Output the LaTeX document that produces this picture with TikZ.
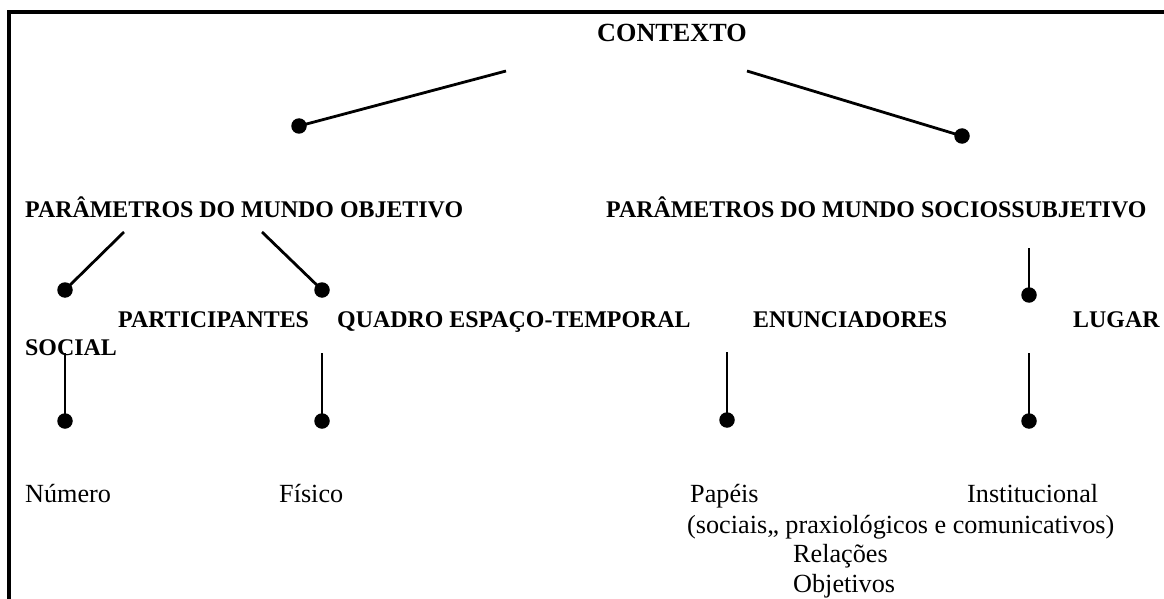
\documentclass[tikz,border=0pt]{standalone}
\usepackage{fontspec}
\setmainfont{Liberation Serif}
\begin{document}
\begin{tikzpicture}[x=1pt,y=-1pt,
  hd/.style={font=\fontsize{23.9}{28}\selectfont\bfseries, inner sep=0, anchor=base west},
  ttl/.style={font=\fontsize{26.2}{30}\selectfont\bfseries, inner sep=0, anchor=base west},
  lf/.style={font=\fontsize{26.2}{30}\selectfont, inner sep=0, anchor=base west},
  dot/.style={circle, fill=black, inner sep=0, minimum size=15.5pt},
  conn/.style={line width=2.8pt},
  frame/.style={line width=4pt, line join=miter}]
\useasboundingbox (0,0) rectangle (1164,599);
% frame
\coordinate (fBL) at (9.3,601);
\coordinate (fTL) at (9.3,12);
\coordinate (fTR) at (1166,12);
\draw[frame] (fBL) -- (fTL) -- (fTR);
% texts
\node[ttl] (ctx) at (597,42) {CONTEXTO};
\node[hd] (pmo) at (25,217) {PARÂMETROS DO MUNDO OBJETIVO};
\node[hd] (pms) at (606,217) {PARÂMETROS DO MUNDO SOCIOSSUBJETIVO};
\node[hd] (part) at (118,327) {PARTICIPANTES};
\node[hd] (qet) at (337,327) {QUADRO ESPAÇO-TEMPORAL};
\node[hd] (enun) at (753,327) {ENUNCIADORES};
\node[hd] (lug) at (1073,327) {LUGAR};
\node[hd] (soc) at (25,355) {SOCIAL};
\node[lf] (num) at (25,502) {Número};
\node[lf] (fis) at (279,502) {Físico};
\node[lf] (pap) at (690,502) {Papéis};
\node[lf] (inst) at (967,502) {Institucional};
\node[lf] (soci) at (687,533) {(sociais,, praxiológicos e comunicativos)};
\node[lf] (rel) at (793,562) {Relações};
\node[lf] (obj) at (793,592) {Objetivos};
% dots
\node[dot] (d1) at (299,126) {};
\node[dot] (d2) at (962,136) {};
\node[dot] (d3) at (65,290) {};
\node[dot] (d4) at (322,290) {};
\node[dot] (d5) at (1029,295) {};
\node[dot] (d6) at (65,421) {};
\node[dot] (d7) at (322,421) {};
\node[dot] (d8) at (727,420) {};
\node[dot] (d9) at (1029,421) {};
% connector free ends
\coordinate (s1) at (506,71);
\coordinate (s2) at (747,71);
\coordinate (s3) at (124,232);
\coordinate (s4) at (262,232);
\coordinate (s5) at (1029,248);
\coordinate (s6) at (65,353);
\coordinate (s7) at (322,353);
\coordinate (s8) at (727,352);
\coordinate (s9) at (1029,353);
\draw[conn] (s1) -- (d1.center);
\draw[conn] (s2) -- (d2.center);
\draw[conn] (s3) -- (d3.center);
\draw[conn] (s4) -- (d4.center);
\draw[conn] (s5) -- (d5.center);
\draw[conn] (s6) -- (d6.center);
\draw[conn] (s7) -- (d7.center);
\draw[conn] (s8) -- (d8.center);
\draw[conn] (s9) -- (d9.center);
\end{tikzpicture}
\end{document}
